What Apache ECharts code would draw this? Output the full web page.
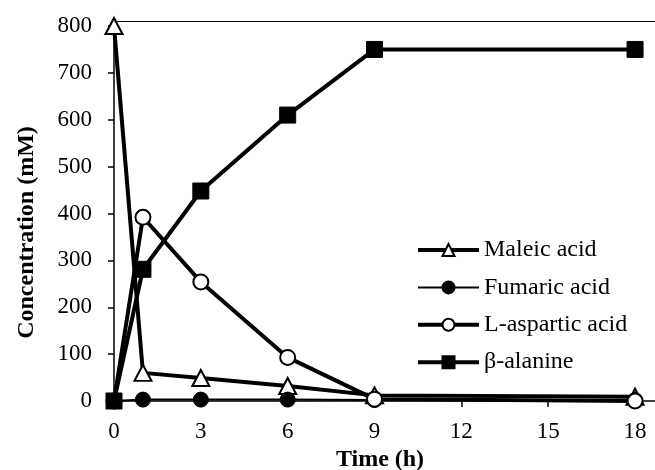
<!DOCTYPE html>
<html lang="en" style="height: 100%; overflow: hidden">
<head>
    <meta charset="UTF-8">
    <title>Concentration vs time</title>
    <script src="https://cdn.jsdelivr.net/npm/echarts@6/dist/echarts.min.js"></script>
</head>
<body style="height: 100%; margin: 0; overflow: hidden">
    <!-- plot runs on past the right edge like the cropped original -->
    <div id="main" style="width: 664px; height: 470px"></div>
    <script>
        // sampling times (h)
        var times = [0, 1, 3, 6, 9, 18];
        // concentrations (mM)
        var maleic = [800, 60, 49, 32, 12, 9];
        var fumaric = [0, 3, 3, 3, 2, 2];
        var aspartic = [0, 392, 254, 93, 4, 0];
        var alanine = [0, 281, 448, 610, 750, 750];

        var seriesNames = ['Maleic acid', 'Fumaric acid', 'L-aspartic acid', 'β-alanine'];
        var lineWidths = [4, 2, 4, 4];

        function pairs(vals) {
            return times.map(function (t, i) { return [t, vals[i]]; });
        }

        var font = '"Liberation Serif", "Times New Roman", serif';
        var myChart = echarts.init(document.getElementById('main'));

        var option = {
            animation: false,
            textStyle: { fontFamily: font, color: '#000' },
            grid: { left: 114, right: 0, top: 26, bottom: 69, outerBoundsMode: 'none', containLabel: false },
            legend: {
                left: 411,
                top: 233,
                orient: 'vertical',
                itemWidth: 61,
                itemHeight: 15,
                itemGap: 13.4,
                data: seriesNames.map(function (n, i) {
                    return { name: n, lineStyle: { width: lineWidths[i] } };
                }),
                textStyle: { fontFamily: font, fontSize: 24, color: '#000', lineHeight: 24 }
            },
            xAxis: [{
                type: 'value',
                min: 0,
                max: 19,
                interval: 3,
                name: 'Time (h)',
                nameLocation: 'middle',
                nameGap: 45,
                nameTextStyle: { fontFamily: font, fontSize: 24, fontWeight: 'bold', color: '#000', padding: [0, 18, 0, 0] },
                axisLine: { lineStyle: { color: '#000', width: 1.5 } },
                axisTick: { length: 6, lineStyle: { color: '#000', width: 1.5 } },
                axisLabel: { fontFamily: font, fontSize: 23, color: '#000', margin: 19, showMaxLabel: false },
                splitLine: { show: false }
            }, {
                // top frame line
                type: 'value',
                position: 'top',
                offset: 5,
                min: 0,
                max: 19,
                axisLine: { show: true, lineStyle: { color: '#000', width: 1 } },
                axisTick: { show: false },
                axisLabel: { show: false },
                splitLine: { show: false }
            }],
            yAxis: {
                type: 'value',
                min: 0,
                max: 800,
                interval: 100,
                name: 'Concentration (mM)',
                nameLocation: 'middle',
                nameGap: 75,
                nameTextStyle: { fontFamily: font, fontSize: 24, fontWeight: 'bold', color: '#000', padding: [0, 38, 0, 0] },
                axisLine: { show: true, lineStyle: { color: '#000', width: 1.5 } },
                axisTick: { show: true, length: 6, lineStyle: { color: '#000', width: 1.5 } },
                axisLabel: { fontFamily: font, fontSize: 23, color: '#000', margin: 22 },
                splitLine: { show: false }
            },
            series: [
                {
                    name: seriesNames[0],
                    type: 'line',
                    data: pairs(maleic),
                    symbol: 'triangle',
                    symbolSize: [17, 16],
                    lineStyle: { color: '#000', width: lineWidths[0] },
                    itemStyle: { color: '#fff', borderColor: '#000', borderWidth: 2 }
                },
                {
                    name: seriesNames[1],
                    type: 'line',
                    data: pairs(fumaric),
                    symbol: 'circle',
                    symbolSize: 15,
                    lineStyle: { color: '#000', width: lineWidths[1] },
                    itemStyle: { color: '#000', borderColor: '#000', borderWidth: 1 }
                },
                {
                    name: seriesNames[2],
                    type: 'line',
                    data: pairs(aspartic),
                    symbol: 'circle',
                    symbolSize: 15,
                    lineStyle: { color: '#000', width: lineWidths[2] },
                    itemStyle: { color: '#fff', borderColor: '#000', borderWidth: 2 }
                },
                {
                    name: seriesNames[3],
                    type: 'line',
                    data: pairs(alanine),
                    symbol: 'rect',
                    symbolSize: 16,
                    lineStyle: { color: '#000', width: lineWidths[3] },
                    itemStyle: { color: '#000', borderColor: '#000', borderWidth: 1 }
                }
            ]
        };

        myChart.setOption(option);
    </script>
</body>
</html>
